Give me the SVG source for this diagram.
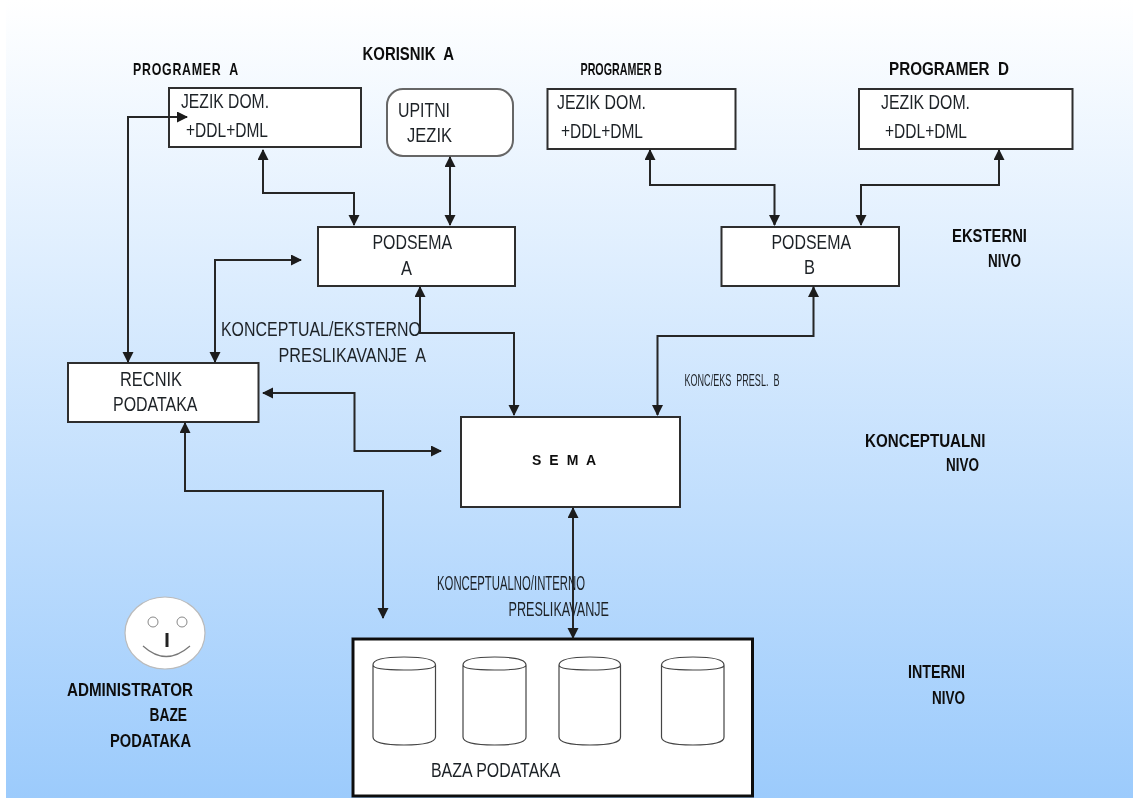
<svg xmlns="http://www.w3.org/2000/svg" width="1133" height="798" viewBox="0 0 1133 798">
<style>
text{font-family:"Liberation Sans",Arial,sans-serif;fill:#1f2328;font-size:19.500px;white-space:pre}
.b{font-weight:bold;font-size:19px;fill:#111}
.box{fill:#fff;stroke:#2f2f2f;stroke-width:2}
.cn{fill:none;stroke:#262626;stroke-width:2;marker-start:url(#a);marker-end:url(#a)}
.cy{fill:#fff;stroke:#444;stroke-width:1.2}
</style>
<defs>
<linearGradient id="bg" x1="0" y1="0" x2="0" y2="1"><stop offset="0" stop-color="#fff"/><stop offset="1" stop-color="#9ccbfc"/></linearGradient>
<marker id="a" markerUnits="userSpaceOnUse" markerWidth="13" markerHeight="12" refX="10" refY="5.500" orient="auto-start-reverse"><path d="M0 0L11 5.500L0 11Z" fill="#1a1a1a"/></marker>
<filter id="soft" x="0" y="0" width="100%" height="100%" filterUnits="userSpaceOnUse"><feGaussianBlur stdDeviation="0.4"/></filter>
</defs>
<rect width="1133" height="798" fill="#fff"/>
<rect x="6" y="0" width="1127" height="798" fill="url(#bg)"/>
<g filter="url(#soft)">
<g id="programer-a-box"><rect class="box" x="169" y="88" width="192" height="59"/><text x="181" y="108" textLength="88" lengthAdjust="spacingAndGlyphs">JEZIK DOM.</text><text x="186" y="137" textLength="82" lengthAdjust="spacingAndGlyphs">+DDL+DML</text></g>
<g id="upitni-jezik"><rect class="box" x="387" y="89" width="126" height="67" rx="16" style="stroke:#666"/><text x="398" y="117" textLength="52" lengthAdjust="spacingAndGlyphs">UPITNI</text><text x="407" y="142" textLength="45" lengthAdjust="spacingAndGlyphs">JEZIK</text></g>
<g id="podsema-a"><rect class="box" x="318" y="227" width="197" height="59"/><text x="372.500" y="249" textLength="79.500" lengthAdjust="spacingAndGlyphs">PODSEMA</text><text x="401" y="275" textLength="11" lengthAdjust="spacingAndGlyphs">A</text></g>
<g id="recnik"><rect class="box" x="68" y="363" width="190.500" height="59"/><text x="120" y="386" textLength="62" lengthAdjust="spacingAndGlyphs">RECNIK</text><text x="113" y="411" textLength="84.500" lengthAdjust="spacingAndGlyphs">PODATAKA</text></g>
<g id="programer-b-box"><rect class="box" x="547.500" y="89" width="188" height="60"/><text x="557" y="109" textLength="89" lengthAdjust="spacingAndGlyphs">JEZIK DOM.</text><text x="561" y="138" textLength="82" lengthAdjust="spacingAndGlyphs">+DDL+DML</text></g>
<g id="programer-d-box"><rect class="box" x="859" y="89" width="213.500" height="60"/><text x="881" y="109" textLength="89" lengthAdjust="spacingAndGlyphs">JEZIK DOM.</text><text x="885" y="138" textLength="82" lengthAdjust="spacingAndGlyphs">+DDL+DML</text></g>
<g id="podsema-b"><rect class="box" x="721.500" y="227" width="177.500" height="59"/><text x="771.500" y="249" textLength="79.500" lengthAdjust="spacingAndGlyphs">PODSEMA</text><text x="804" y="274" textLength="11" lengthAdjust="spacingAndGlyphs">B</text></g>
<g id="sema"><rect class="box" x="461" y="417" width="219" height="90"/><text x="532" y="465" class="b" style="font-size:14px" textLength="64" lengthAdjust="spacing">S E M A</text></g>
<g id="baza-podataka"><rect x="353" y="639" width="399.500" height="157" fill="#fff" stroke="#111" stroke-width="3"/>
<g id="cyl1"><path class="cy" d="M373 665V737Q373 745 404 745T435.500 737V665Q435.500 657 404 657T373 665Q373 670 404 670T435.500 665"/></g>
<g id="cyl2"><path class="cy" d="M463 665V737Q463 745 494.500 745T526 737V665Q526 657 494.500 657T463 665Q463 670 494.500 670T526 665"/></g>
<g id="cyl3"><path class="cy" d="M559 665V737Q559 745 590 745T620.500 737V665Q620.500 657 590 657T559 665Q559 670 590 670T620.500 665"/></g>
<g id="cyl4"><path class="cy" d="M661.500 665V737Q661.500 745 693 745T724 737V665Q724 657 693 657T661.500 665Q661.500 670 693 670T724 665"/></g>
<text x="431" y="777" textLength="129.500" lengthAdjust="spacingAndGlyphs">BAZA PODATAKA</text></g>
<g id="administrator"><ellipse cx="165" cy="633" rx="40" ry="36" fill="#fff" stroke="#bbb" stroke-width="1.200"/><circle cx="153" cy="622" r="5" fill="none" stroke="#888"/><circle cx="182" cy="622" r="5" fill="none" stroke="#888"/><path d="M167 633V647" stroke="#222" stroke-width="3"/><path d="M143 646Q166 667 190 646" fill="none" stroke="#777" stroke-width="1.200"/>
<text class="b" x="67" y="696" textLength="126" lengthAdjust="spacingAndGlyphs">ADMINISTRATOR</text><text class="b" x="149.500" y="721" textLength="37.500" lengthAdjust="spacingAndGlyphs">BAZE</text><text class="b" x="110" y="747" textLength="81" lengthAdjust="spacingAndGlyphs">PODATAKA</text></g>
<g id="connectors">
<path class="cn" d="M128 362V117H187"/>
<path class="cn" d="M263 150V193H354V225"/>
<path class="cn" d="M450 157V225"/>
<path class="cn" d="M215 362V260H301"/>
<path class="cn" d="M420 287V333H514V415"/>
<path class="cn" d="M263 393H354.500V451H441"/>
<path class="cn" d="M185 423V491H383V618"/>
<path class="cn" d="M573 508V638"/>
<path class="cn" d="M650 150V185H774.500V225"/>
<path class="cn" d="M999 150V185H861V225"/>
<path class="cn" d="M813.500 287V336H657.500V415"/>
</g>
<g id="labels">
<text class="b" x="362.500" y="60" textLength="91.500" lengthAdjust="spacingAndGlyphs">KORISNIK  A</text>
<text class="b" x="133" y="75" textLength="106" lengthAdjust="spacingAndGlyphs" style="font-size:17px;letter-spacing:1px">PROGRAMER  A</text>
<text class="b" x="580.500" y="75" textLength="81.500" lengthAdjust="spacingAndGlyphs" style="font-size:17px">PROGRAMER B</text>
<text class="b" x="889" y="75" textLength="120" lengthAdjust="spacingAndGlyphs">PROGRAMER  D</text>
<text x="221" y="336" textLength="200" lengthAdjust="spacingAndGlyphs">KONCEPTUAL/EKSTERNO</text>
<text x="278.500" y="362" textLength="147.500" lengthAdjust="spacingAndGlyphs">PRESLIKAVANJE  A</text>
<text x="684.500" y="386" textLength="95" lengthAdjust="spacingAndGlyphs" style="font-size:17px">KONC/EKS  PRESL.  B</text>
<text x="437" y="590" textLength="148" lengthAdjust="spacingAndGlyphs">KONCEPTUALNO/INTERNO</text>
<text x="508.500" y="616" textLength="100.500" lengthAdjust="spacingAndGlyphs">PRESLIKAVANJE</text>
<text class="b" x="952" y="242" textLength="75" lengthAdjust="spacingAndGlyphs">EKSTERNI</text>
<text class="b" x="988" y="267" textLength="33" lengthAdjust="spacingAndGlyphs">NIVO</text>
<text class="b" x="865" y="447" textLength="120.500" lengthAdjust="spacingAndGlyphs">KONCEPTUALNI</text>
<text class="b" x="946" y="471" textLength="33" lengthAdjust="spacingAndGlyphs">NIVO</text>
<text class="b" x="908" y="678" textLength="57" lengthAdjust="spacingAndGlyphs">INTERNI</text>
<text class="b" x="932" y="704" textLength="33" lengthAdjust="spacingAndGlyphs">NIVO</text>
</g>
</g>
</svg>
